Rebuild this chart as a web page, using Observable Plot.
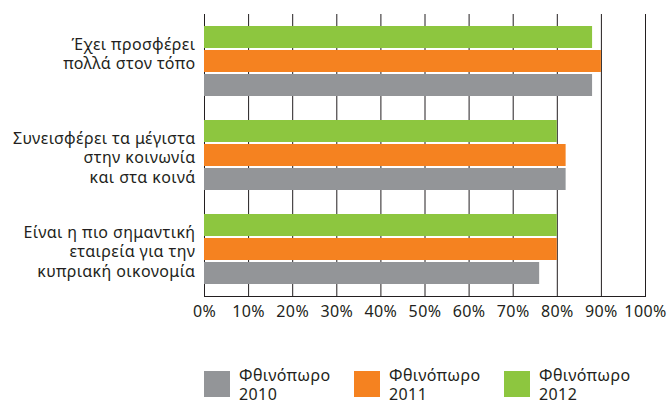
<!DOCTYPE html>
<html>
<head>
<meta charset="utf-8">
<script src="https://cdn.jsdelivr.net/npm/d3@7"></script>
<script src="https://cdn.jsdelivr.net/npm/@observablehq/plot@0.6"></script>
<style>
  body { margin: 0; background: #fff; font-family: "Noto Sans", sans-serif; color: #231f20; }
  #chart svg { display: block; }
  #chart svg text { letter-spacing: 0.4px; }
  .legend { display: flex; padding-left: 204px; margin-top: 23px; }
  .item { display: flex; align-items: center; width: 150px; }
  .sw { width: 26px; height: 26px; flex: none; }
  .lbl { margin-left: 9px; padding-top: 3px; font-size: 16px; line-height: 19px; letter-spacing: 0.4px; }
</style>
</head>
<body>
<div id="chart"></div>
<script>
const categories = [
  "Έχει προσφέρει\nπολλά στον τόπο",
  "Συνεισφέρει τα μέγιστα\nστην κοινωνία\nκαι στα κοινά",
  "Είναι η πιο σημαντική\nεταιρεία για την\nκυπριακή οικονομία"
];
const seasons = ["Φθινόπωρο 2010", "Φθινόπωρο 2011", "Φθινόπωρο 2012"];
const values2010 = [88, 82, 76];
const values2011 = [90, 82, 80];
const values2012 = [88, 80, 80];
const colors = ["#939598", "#f58220", "#8dc63f"];
const xTicks = [0, 10, 20, 30, 40, 50, 60, 70, 80, 90, 100];

const seriesValues = [values2010, values2011, values2012];
const data = [];
categories.forEach((c, i) => {
  seasons.forEach((s, j) => data.push({cat: c, season: s, value: seriesValues[j][i]}));
});

const ink = "#231f20";
const plot = Plot.plot({
  width: 670,
  height: 340,
  marginLeft: 204,
  marginRight: 25,
  marginTop: 13,
  marginBottom: 43,
  style: {fontFamily: "Noto Sans", fontSize: "16px", color: ink, background: "#fff"},
  x: {domain: [0, 100], axis: null},
  fy: {domain: categories, paddingInner: 0.2105, paddingOuter: 0.1, axis: null},
  y: {domain: [...seasons].reverse(), paddingInner: 0.09, paddingOuter: 0.045, axis: null},
  color: {domain: seasons, range: colors},
  marks: [
    Plot.ruleX(xTicks, {stroke: ink, strokeWidth: 1, insetTop: -10, insetBottom: -10}),
    Plot.barX(data, {fy: "cat", y: "season", x: "value", fill: "season"}),
    Plot.axisFy({anchor: "left", label: null, tickSize: 0, tickPadding: 9, lineHeight: 1.2, lineAnchor: "top", dy: -25, fontSize: 16, fill: ink}),
    Plot.axisX({ticks: xTicks, label: null, tickFormat: d => d + "%", tickSize: 0, tickPadding: 19, fontSize: 16, fill: ink}),
    Plot.frame({anchor: "bottom", facetAnchor: "bottom", insetBottom: -10, stroke: ink})
  ]
});
document.getElementById("chart").appendChild(plot);

const legend = document.createElement("div");
legend.className = "legend";
seasons.forEach((s, i) => {
  const item = document.createElement("div");
  item.className = "item";
  const sw = document.createElement("div");
  sw.className = "sw";
  sw.style.background = colors[i];
  const lbl = document.createElement("div");
  lbl.className = "lbl";
  const parts = s.split(" ");
  lbl.innerHTML = parts[0] + "<br>" + parts[1];
  item.appendChild(sw);
  item.appendChild(lbl);
  legend.appendChild(item);
});
document.body.appendChild(legend);
</script>
</body>
</html>
